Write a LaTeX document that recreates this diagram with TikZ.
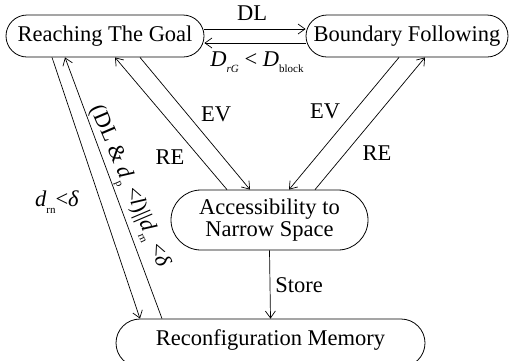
\documentclass[tikz,border=0pt]{standalone}
\usepackage{fontspec}
\setmainfont{Liberation Serif}
\usetikzlibrary{arrows.meta,shapes.misc}

% small lowered index text
\newcommand\idx[1]{\raisebox{-0.28em}{\fontsize{11}{11}\selectfont #1}}

\begin{document}
\begin{tikzpicture}[x=1pt,y=-1pt,
  font=\fontsize{22.5}{22}\selectfont,
  state/.style={draw, rounded rectangle, line width=0.8pt, inner sep=0pt, align=center},
  link/.style={line width=0.7pt, -{Straight Barb[length=7pt,width=10pt]}},
  lbl/.style={inner sep=0pt}]
\useasboundingbox (0,0) rectangle (510,360);
\clip (0,0) rectangle (510,360);

% states
\node[state, minimum width=198pt, minimum height=42pt] (rtg) at (105,36) {Reaching The Goal};
\node[state, minimum width=202pt, minimum height=42pt] (bf)  at (407,36) {Boundary Following};
\node[state, minimum width=197pt, minimum height=60pt] (ans) at (269.5,220) {Accessibility to\\Narrow Space};
\node[state, minimum width=309pt, minimum height=48pt] (rm)  at (270.5,343) {};
\node[lbl] (rmtext) at (270.5,340) {Reconfiguration Memory};

% transitions between the two top states
\draw[link] ([yshift=7pt]rtg.east) -- ([yshift=7pt]bf.west);
\draw[link] ([yshift=-7pt]bf.west) -- ([yshift=-7pt]rtg.east);
\node[lbl] (dl) at (252,13) {DL};
\node[lbl] (drg) at (257,62) {\textit{D}\idx{\textit{rG}} < \textit{D}\idx{block}};

% Reaching The Goal <-> Accessibility to Narrow Space
\draw[link] ([xshift=35pt]rtg.south) -- ([xshift=-19.5pt]ans.north);
\draw[link] ([xshift=-42.5pt]ans.north) -- ([xshift=10pt]rtg.south);
\node[lbl] (ev1) at (216,114) {EV};
\node[lbl] (re1) at (170,157) {RE};

% Boundary Following <-> Accessibility to Narrow Space
\draw[link] ([xshift=-8pt]bf.south) -- ([xshift=19.5pt]ans.north);
\draw[link] ([xshift=45.5pt]ans.north) -- ([xshift=18pt]bf.south);
\node[lbl] (ev2) at (325,111) {EV};
\node[lbl] (re2) at (377,153) {RE};

% Accessibility to Narrow Space -> Reconfiguration Memory
\draw[link] (ans.south) -- (rm.north);
\node[lbl] (store) at (299,285) {Store};

% Reaching The Goal <-> Reconfiguration Memory
\draw[link] ([xshift=-53pt]rtg.south) -- ([xshift=-130.5pt]rm.north);
\draw[link] ([xshift=-108.5pt]rm.north) -- ([xshift=-40pt]rtg.south);
\node[lbl] (drn) at (57,202) {\textit{d}\idx{rn}<\textit{δ}};
\node[lbl, rotate=-67] (cond) at (128,187)
  {(DL \& \textit{d}\idx{p} <\textit{l})||\textit{d}\idx{rn} <\textit{δ}};
\end{tikzpicture}
\end{document}
